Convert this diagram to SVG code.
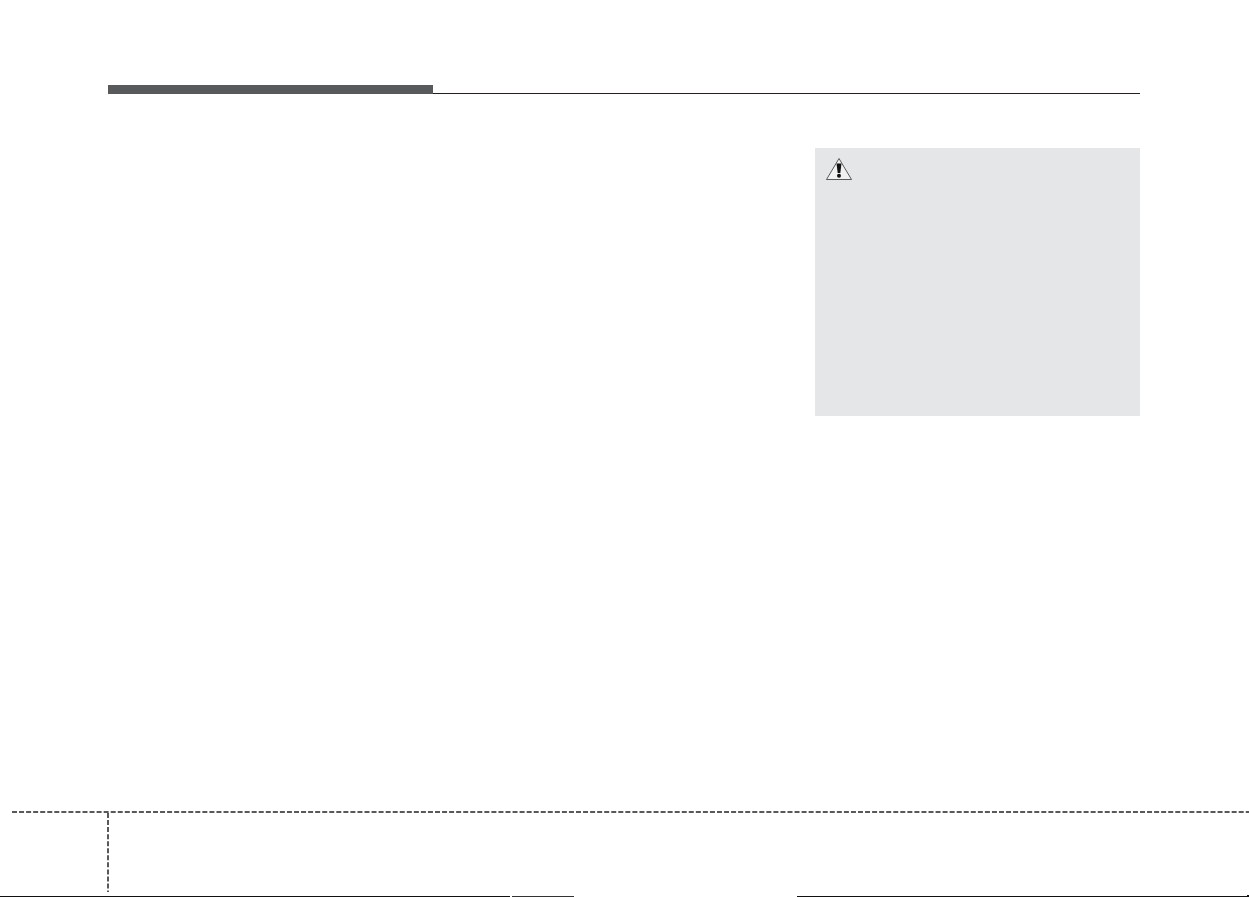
<svg xmlns="http://www.w3.org/2000/svg" width="1249" height="897" viewBox="0 0 1249 897">
  <style>
    .dash { stroke: #58595b; stroke-width: 2; stroke-dasharray: 5 2.05; fill: none; }
  </style>
  <rect width="1249" height="897" fill="#ffffff"/>
  <g id="header">
    <rect x="108" y="85" width="325" height="9" fill="#58595b"/>
    <rect x="433" y="93" width="707" height="1" fill="#231f20"/>
  </g>
  <g id="warning-box">
    <rect x="815" y="148" width="325" height="268" fill="#e5e6e8"/>
    <path d="M839 158.500 L826.500 179.500 L851.500 179.500 Z" fill="#f1f1f2" stroke="#333" stroke-width="0.8" stroke-linejoin="round"/>
    <path d="M836.500 163.500 L841.500 163.500 L840.300 173 L837.700 173 Z" fill="#111"/>
    <circle cx="839" cy="175.800" r="2" fill="#111"/>
  </g>
  <g id="footer">
    <line class="dash" x1="12" y1="812" x2="1249" y2="812"/>
    <line class="dash" x1="108" y1="813" x2="108" y2="892"/>
    <rect x="0" y="896" width="510" height="1" fill="#111"/>
    <rect x="512" y="896" width="62" height="1" fill="#333"/>
    <rect x="797" y="896" width="452" height="1" fill="#111"/>
    <rect x="1247" y="895" width="2" height="1" fill="#111"/>
  </g>
</svg>
